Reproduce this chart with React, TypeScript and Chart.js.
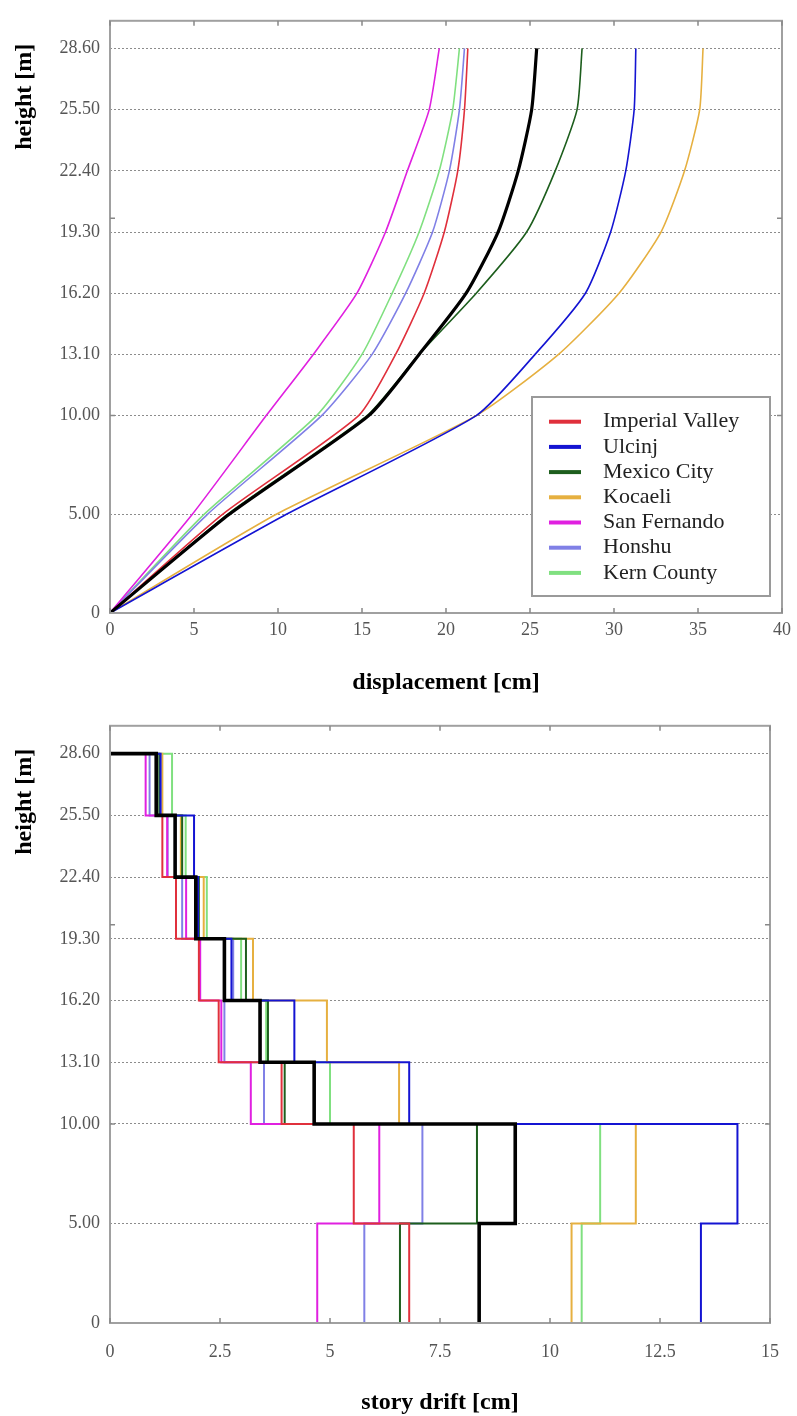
import React, { useEffect, useRef } from "react";
import { Chart, registerables } from "chart.js";
Chart.register(...registerables);

// ---------- data ----------
const floorHeights = [0, 5, 10, 13.1, 16.2, 19.3, 22.4, 25.5, 28.6];
const floorLabels = ["0", "5.00", "10.00", "13.10", "16.20", "19.30", "22.40", "25.50", "28.60"];
const frameTickHeights = [10, 20];

const seriesNames = ["Imperial Valley", "Ulcinj", "Mexico City", "Kocaeli", "San Fernando", "Honshu", "Kern County"];
const seriesColors = ["#e0303c", "#1414d2", "#1d5e1d", "#e6b040", "#e020e0", "#8080e6", "#80e080"];
const meanName = "Mean";
const meanColor = "#000000";

// displacement [cm] at each floor height
const dispImperialValley = [0, 6.7, 14.8, 17.0, 18.7, 19.9, 20.7, 21.1, 21.3];
const dispUlcinj = [0, 10.5, 21.8, 25.3, 28.3, 29.8, 30.7, 31.2, 31.3];
const dispMexicoCity = [0, 7.0, 15.3, 18.4, 21.8, 24.8, 26.5, 27.8, 28.1];
const dispKocaeli = [0, 9.9, 21.8, 26.7, 30.3, 32.8, 34.2, 35.1, 35.3];
const dispSanFernando = [0, 4.9, 9.3, 12.1, 14.7, 16.4, 17.7, 19.0, 19.6];
const dispHonshu = [0, 5.8, 12.6, 15.6, 17.6, 19.2, 20.2, 20.8, 21.1];
const dispKernCounty = [0, 5.6, 12.3, 15.0, 16.8, 18.4, 19.6, 20.4, 20.8];
const dispMean = [0, 7.1, 15.4, 18.4, 21.2, 23.1, 24.3, 25.1, 25.4];

// story drift [cm] for stories 1..8
const driftImperialValley = [6.8, 5.54, 3.9, 2.47, 2.02, 1.5, 1.19, 1.05];
const driftUlcinj = [13.43, 14.26, 6.8, 4.19, 2.76, 2.0, 1.91, 1.15];
const driftMexicoCity = [6.59, 8.34, 3.97, 3.59, 3.09, 2.02, 1.64, 1.12];
const driftKocaeli = [10.49, 11.95, 6.57, 4.93, 3.25, 2.13, 1.61, 1.19];
const driftSanFernando = [4.71, 6.12, 3.2, 2.53, 2.05, 1.73, 1.3, 0.81];
const driftHonshu = [5.78, 7.1, 3.5, 2.6, 2.8, 1.64, 1.31, 0.9];
const driftKernCounty = [10.72, 11.14, 5.0, 3.55, 2.98, 2.2, 1.72, 1.41];
const driftMean = [8.39, 9.21, 4.64, 3.41, 2.6, 1.95, 1.48, 1.05];

const dispSeries = [dispImperialValley, dispUlcinj, dispMexicoCity, dispKocaeli, dispSanFernando, dispHonshu, dispKernCounty];
const driftSeries = [driftImperialValley, driftUlcinj, driftMexicoCity, driftKocaeli, driftSanFernando, driftHonshu, driftKernCounty];

const dispTitle = "displacement [cm]";
const driftTitle = "story drift [cm]";
const heightTitle = "height [m]";

// ---------- helpers ----------
const SERIF = "'Liberation Serif', 'DejaVu Serif', serif";

function profilePoints(vals: number[]) {
  return vals.map((v, i) => ({ x: v, y: floorHeights[i] }));
}
function stepPoints(drifts: number[]) {
  const pts: { x: number; y: number }[] = [];
  for (let i = 0; i < drifts.length; i++) {
    pts.push({ x: drifts[i], y: floorHeights[i] });
    pts.push({ x: drifts[i], y: floorHeights[i + 1] });
  }
  pts.push({ x: 0, y: floorHeights[floorHeights.length - 1] });
  return pts;
}

const framePlugin = {
  id: "frameDeco",
  afterDraw(chart: any, _args: any, opts: any) {
    const { ctx, chartArea } = chart;
    const { left, right, top, bottom } = chartArea;
    const xs = chart.scales.x;
    const ys = chart.scales.y;
    ctx.save();
    ctx.strokeStyle = "#a0a0a0";
    ctx.lineWidth = 2;
    ctx.strokeRect(left, top, right - left, bottom - top);
    ctx.lineWidth = 1.5;
    ctx.strokeStyle = "#888";
    const tl = 5;
    xs.ticks.forEach((t: any) => {
      const px = xs.getPixelForValue(t.value);
      ctx.beginPath();
      ctx.moveTo(px, bottom);
      ctx.lineTo(px, bottom - tl);
      ctx.moveTo(px, top);
      ctx.lineTo(px, top + tl);
      ctx.stroke();
    });
    frameTickHeights.forEach((v) => {
      const py = ys.getPixelForValue(v);
      ctx.beginPath();
      ctx.moveTo(left, py);
      ctx.lineTo(left + tl, py);
      ctx.moveTo(right, py);
      ctx.lineTo(right - tl, py);
      ctx.stroke();
    });
    // y title
    ctx.fillStyle = "#000";
    ctx.font = "bold 24px " + SERIF;
    ctx.textAlign = "center";
    ctx.textBaseline = "middle";
    ctx.translate(25, top + 76);
    ctx.rotate(-Math.PI / 2);
    ctx.fillText(heightTitle, 0, 0);
    ctx.restore();

    if (opts && opts.legend) {
      ctx.save();
      const bx = right - 250;
      const by = bottom - 216;
      const bw = 238;
      const bh = 199;
      ctx.fillStyle = "#fff";
      ctx.fillRect(bx, by, bw, bh);
      ctx.strokeStyle = "#9a9a9a";
      ctx.lineWidth = 2;
      ctx.strokeRect(bx, by, bw, bh);
      ctx.font = "22px " + SERIF;
      ctx.textBaseline = "middle";
      ctx.textAlign = "left";
      seriesNames.forEach((name, i) => {
        const y = by + 24.7 + i * 25.2;
        ctx.strokeStyle = seriesColors[i];
        ctx.lineWidth = 4;
        ctx.beginPath();
        ctx.moveTo(bx + 17, y);
        ctx.lineTo(bx + 49, y);
        ctx.stroke();
        ctx.fillStyle = "#222";
        ctx.fillText(name, bx + 71, y);
      });
      ctx.restore();
    }
  },
};

function makeOptions(p: {
  xMax: number;
  xStep: number;
  xTitle: string;
  padTop: number;
  padRight: number;
  xAxisHeight: number;
  labelPad: number;
  titlePadBottom: number;
  legend: boolean;
}) {
  return {
    animation: false,
    responsive: false,
    devicePixelRatio: 1,
    layout: { padding: { top: p.padTop, right: p.padRight, left: 0, bottom: 0 } },
    plugins: {
      legend: { display: false },
      tooltip: { enabled: false },
      frameDeco: { legend: p.legend },
    },
    scales: {
      x: {
        type: "linear",
        min: 0,
        max: p.xMax,
        ticks: {
          stepSize: p.xStep,
          color: "#555",
          font: { family: SERIF, size: 18 },
          padding: p.labelPad,
          maxRotation: 0,
        },
        grid: { display: false, drawTicks: false },
        border: { display: false },
        title: {
          display: true,
          text: p.xTitle,
          color: "#000",
          font: { family: SERIF, size: 24, weight: "bold", lineHeight: 1 },
          padding: { top: 0, bottom: p.titlePadBottom },
        },
        afterFit: (s: any) => {
          s.height = p.xAxisHeight;
        },
      },
      y: {
        type: "linear",
        min: 0,
        max: 30,
        afterBuildTicks: (s: any) => {
          s.ticks = floorHeights.map((v) => ({ value: v }));
        },
        ticks: {
          color: "#555",
          font: { family: SERIF, size: 18 },
          padding: 10,
          callback: (_v: any, i: number) => floorLabels[i],
        },
        grid: { color: "#8c8c8c", lineWidth: 1, drawTicks: false },
        border: { display: false, dash: [2, 2] },
        afterFit: (s: any) => {
          s.width = 110;
        },
      },
    },
  };
}

export default function App() {
  const topRef = useRef<HTMLCanvasElement>(null);
  const botRef = useRef<HTMLCanvasElement>(null);

  useEffect(() => {
    const topDatasets: any[] = dispSeries.map((vals, i) => ({
      label: seriesNames[i],
      data: profilePoints(vals),
      borderColor: seriesColors[i],
      borderWidth: 1.6,
      showLine: true,
      pointRadius: 0,
      tension: 0.2,
      order: 1,
    }));
    topDatasets.push({
      label: meanName,
      data: profilePoints(dispMean),
      borderColor: meanColor,
      borderWidth: 3.2,
      showLine: true,
      pointRadius: 0,
      tension: 0.2,
      order: 0,
    });

    const botDatasets: any[] = driftSeries.map((vals, i) => ({
      label: seriesNames[i],
      data: stepPoints(vals),
      borderColor: seriesColors[i],
      borderWidth: 2,
      showLine: true,
      pointRadius: 0,
      tension: 0,
      order: 1,
    }));
    botDatasets.push({
      label: meanName,
      data: stepPoints(driftMean),
      borderColor: meanColor,
      borderWidth: 3.6,
      showLine: true,
      pointRadius: 0,
      tension: 0,
      order: 0,
    });

    const c1 = new Chart(topRef.current as HTMLCanvasElement, {
      type: "scatter",
      data: { datasets: topDatasets },
      options: makeOptions({
        xMax: 40,
        xStep: 5,
        xTitle: dispTitle,
        padTop: 9,
        padRight: 14,
        xAxisHeight: 92,
        labelPad: 6,
        titlePadBottom: 10,
        legend: true,
      }) as any,
      plugins: [framePlugin],
    });
    const c2 = new Chart(botRef.current as HTMLCanvasElement, {
      type: "scatter",
      data: { datasets: botDatasets },
      options: makeOptions({
        xMax: 15,
        xStep: 2.5,
        xTitle: driftTitle,
        padTop: 12,
        padRight: 17,
        xAxisHeight: 93,
        labelPad: 18,
        titlePadBottom: 1,
        legend: false,
      }) as any,
      plugins: [framePlugin],
    });
    return () => {
      c1.destroy();
      c2.destroy();
    };
  }, []);

  return (
    <div style={{ position: "fixed", left: 0, top: 0, width: 797, height: 1416, background: "#fff" }}>
      <canvas ref={topRef} width={797} height={705} style={{ position: "absolute", left: 0, top: 0, width: 797, height: 705 }} />
      <canvas ref={botRef} width={797} height={711} style={{ position: "absolute", left: 0, top: 705, width: 797, height: 711 }} />
    </div>
  );
}
